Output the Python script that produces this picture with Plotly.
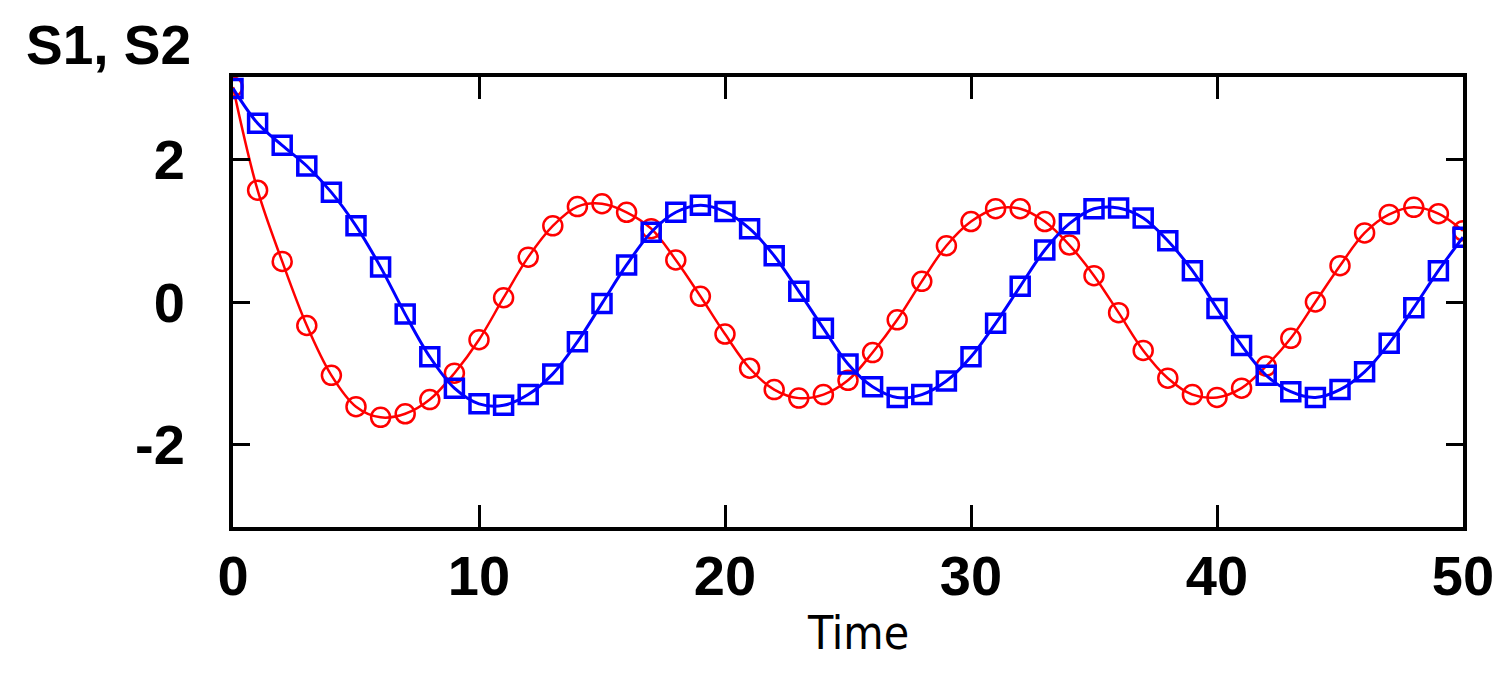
import plotly.graph_objects as go

time = list(range(0, 51))
s1 = [3.02, 1.57, 0.57, -0.33, -1.03, -1.47, -1.62, -1.57, -1.37, -1.00,
      -0.53, 0.06, 0.63, 1.07, 1.34, 1.38, 1.26, 1.03, 0.59, 0.08,
      -0.45, -0.93, -1.23, -1.35, -1.30, -1.10, -0.71, -0.25, 0.29, 0.79,
      1.13, 1.31, 1.31, 1.13, 0.80, 0.37, -0.15, -0.68, -1.07, -1.30,
      -1.34, -1.21, -0.90, -0.51, 0.00, 0.51, 0.97, 1.23, 1.33, 1.24, 1.00]
s2 = [3.00, 2.51, 2.20, 1.91, 1.54, 1.07, 0.49, -0.17, -0.77, -1.21,
      -1.43, -1.45, -1.30, -1.01, -0.56, -0.02, 0.52, 0.98, 1.26, 1.36,
      1.27, 1.03, 0.65, 0.15, -0.37, -0.87, -1.19, -1.34, -1.30, -1.11,
      -0.77, -0.30, 0.22, 0.73, 1.10, 1.31, 1.32, 1.18, 0.86, 0.44,
      -0.09, -0.61, -1.03, -1.26, -1.34, -1.23, -0.98, -0.58, -0.08, 0.44, 0.91]

x_ticks = [0, 10, 20, 30, 40, 50]
y_ticks = [-2, 0, 2]

fig = go.Figure()
fig.add_trace(go.Scatter(
    x=time, y=s1, mode="lines+markers", name="S1",
    line=dict(color="#FF0000", width=2.5, shape="spline"),
    marker=dict(symbol="circle-open", size=19, color="#FF0000",
                line=dict(color="#FF0000", width=2.5)),
))
fig.add_trace(go.Scatter(
    x=time, y=s2, mode="lines+markers", name="S2",
    line=dict(color="#0000FF", width=3, shape="spline"),
    marker=dict(symbol="square-open", size=18, color="#0000FF",
                line=dict(color="#0000FF", width=3.5)),
))

tickfont = dict(family="Liberation Sans, Arial, sans-serif", size=56,
                color="black", weight="bold")

fig.update_layout(
    width=1511, height=685,
    margin=dict(l=225, r=56, t=69, b=166, autoexpand=False),
    paper_bgcolor="white", plot_bgcolor="white",
    showlegend=False,
    xaxis=dict(
        range=[0, 50], tickvals=x_ticks, ticktext=[str(v) for v in x_ticks],
        showgrid=False, zeroline=False,
        showline=True, linecolor="black", linewidth=4, mirror="ticks",
        ticks="inside", ticklen=22, tickwidth=3, tickcolor="black",
        tickfont=tickfont, ticklabelstandoff=-3,
    ),
    yaxis=dict(
        range=[-3.16, 3.16], tickvals=y_ticks, ticktext=[str(v) for v in y_ticks],
        showgrid=False, zeroline=False,
        showline=True, linecolor="black", linewidth=4, mirror="ticks",
        ticks="inside", ticklen=17, tickwidth=3, tickcolor="black",
        tickfont=tickfont, ticklabelstandoff=33,
    ),
    annotations=[
        dict(text="Time", xref="paper", yref="paper", x=0.5085, y=-0.235,
             xanchor="center", yanchor="middle", showarrow=False,
             font=dict(family="Liberation Sans Narrow, DejaVu Sans Condensed, Roboto Condensed, Liberation Sans, sans-serif",
                       size=46, color="black")),
        dict(text="S1, S2", xref="paper", yref="paper", x=-0.17, y=1.07,
             xanchor="left", yanchor="middle", showarrow=False,
             font=dict(family="Liberation Sans, Arial, sans-serif", size=55,
                       color="black", weight="bold")),
    ],
)

fig.write_html("out.html")
